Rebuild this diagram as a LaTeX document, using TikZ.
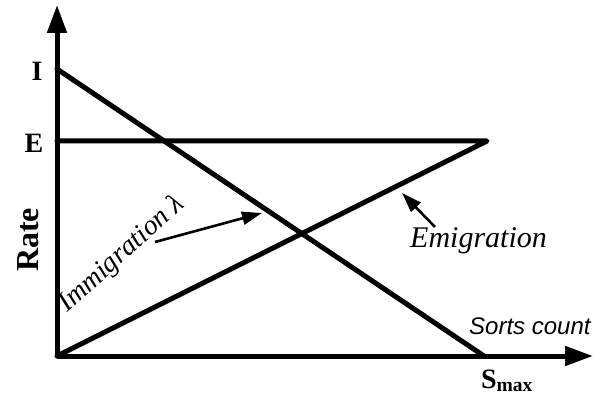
\documentclass[tikz,border=0pt]{standalone}
\usepackage{fontspec}
\setmainfont{Liberation Serif}[ItalicFont={Liberation Serif Italic},BoldFont={Liberation Serif Bold}]
\setsansfont{Liberation Sans}[ItalicFont={Liberation Sans Italic}]
\usetikzlibrary{arrows.meta}
\begin{document}
\begin{tikzpicture}[x=1pt,y=-1pt,
  axisline/.style={line width=5pt,-{Triangle[length=28pt,width=19pt]}},
  curve/.style={line width=5pt,line cap=round,line join=round},
  pointer/.style={line width=2.6pt,-{Triangle[length=20pt,width=13pt]}},
  lab/.style={inner sep=0pt,font=\bfseries\fontsize{28}{30}\selectfont},
  note/.style={inner sep=0pt,font=\itshape\fontsize{30}{32}\selectfont}]
\useasboundingbox (0,0) rectangle (602,395);
\coordinate (O) at (57,356);
\coordinate (ytip) at (57,5);
\coordinate (xtip) at (593,356);
\coordinate (I) at (57,69);
\coordinate (E) at (57,141);
\coordinate (Eend) at (487,141);
\coordinate (Smax) at (484,356);
\coordinate (ia) at (155,242);
\coordinate (ib) at (262,213);
\coordinate (ea) at (435,227);
\coordinate (eb) at (402,193);
\draw[axisline] (O) -- (ytip);
\draw[axisline] (O) -- (xtip);
\draw[curve] (I) -- (Smax);
\draw[curve] (E) -- (Eend) -- (O);
\draw[pointer] (ia) -- (ib);
\draw[pointer] (ea) -- (eb);
\node[lab] (ilab) at (37,71) {I};
\node[lab] (elab) at (34,143) {E};
\node[lab,font=\bfseries\fontsize{32}{34}\selectfont,rotate=90] (rate) at (28,240) {Rate};
\node[inner sep=0pt,anchor=base west,font=\sffamily\itshape\fontsize{24}{26}\selectfont] (sc) at (469,334) {Sorts count};
\node[inner sep=0pt,anchor=base,font=\bfseries\fontsize{28}{30}\selectfont] (smlab) at (507,388) {S$_{\mathbf{max}}$};
\node[note,anchor=base west] (em) at (410,248) {Emigration};
\node[note,anchor=base west,rotate=42,font=\itshape\fontsize{28}{30}\selectfont] (im) at (67,313) {Immigration λ};
\end{tikzpicture}
\end{document}
